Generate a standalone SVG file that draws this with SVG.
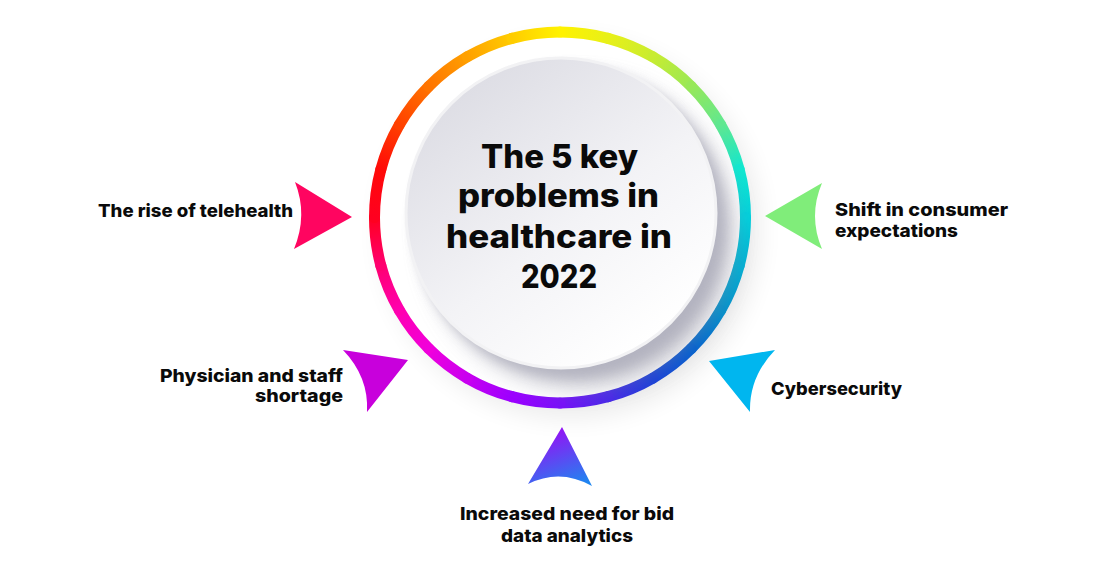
<svg xmlns="http://www.w3.org/2000/svg" width="1100" height="578" viewBox="0 0 1100 578">
<style>
.lbl{font-family:Inter,"Open Sans","Liberation Sans",sans-serif;font-weight:800;font-size:18px;fill:#0a0a0a}
.ttl{font-family:Inter,"Open Sans","Liberation Sans",sans-serif;font-weight:800;font-size:32px;fill:#0a0a0a}
.seg{fill:none;stroke-width:11;stroke-linecap:round}
</style>
<defs>
<filter id="blur12" x="-30%" y="-30%" width="160%" height="160%"><feGaussianBlur stdDeviation="12"/></filter>
<filter id="blur6" x="-30%" y="-30%" width="160%" height="160%"><feGaussianBlur stdDeviation="6"/></filter>
<linearGradient id="disc" x1="0.2" y1="0.1" x2="0.8" y2="0.9"><stop offset="0" stop-color="#dedee5"/><stop offset="0.55" stop-color="#f3f3f6"/><stop offset="1" stop-color="#ffffff"/></linearGradient>
<linearGradient id="blueArr" x1="0.4" y1="0" x2="0.8" y2="1"><stop offset="0" stop-color="#9a0cf5"/><stop offset="1" stop-color="#1e86f0"/></linearGradient>
<linearGradient id="g0" gradientUnits="userSpaceOnUse" x1="560" y1="32" x2="608.01" y2="38.32"><stop offset="0" stop-color="#fff200"/><stop offset="1" stop-color="#e8f018"/></linearGradient>
<linearGradient id="g1" gradientUnits="userSpaceOnUse" x1="608.01" y1="38.32" x2="652.75" y2="56.85"><stop offset="0" stop-color="#e8f018"/><stop offset="1" stop-color="#c8ec30"/></linearGradient>
<linearGradient id="g2" gradientUnits="userSpaceOnUse" x1="652.75" y1="56.85" x2="691.17" y2="86.33"><stop offset="0" stop-color="#c8ec30"/><stop offset="1" stop-color="#98e858"/></linearGradient>
<linearGradient id="g3" gradientUnits="userSpaceOnUse" x1="691.17" y1="86.33" x2="720.65" y2="124.75"><stop offset="0" stop-color="#98e858"/><stop offset="1" stop-color="#60e890"/></linearGradient>
<linearGradient id="g4" gradientUnits="userSpaceOnUse" x1="720.65" y1="124.75" x2="739.18" y2="169.49"><stop offset="0" stop-color="#60e890"/><stop offset="1" stop-color="#10e8d0"/></linearGradient>
<linearGradient id="g5" gradientUnits="userSpaceOnUse" x1="739.18" y1="169.49" x2="745.5" y2="217.5"><stop offset="0" stop-color="#10e8d0"/><stop offset="1" stop-color="#00d0dc"/></linearGradient>
<linearGradient id="g6" gradientUnits="userSpaceOnUse" x1="745.5" y1="217.5" x2="739.18" y2="265.51"><stop offset="0" stop-color="#00d0dc"/><stop offset="1" stop-color="#00b0d4"/></linearGradient>
<linearGradient id="g7" gradientUnits="userSpaceOnUse" x1="739.18" y1="265.51" x2="720.65" y2="310.25"><stop offset="0" stop-color="#00b0d4"/><stop offset="1" stop-color="#0090cc"/></linearGradient>
<linearGradient id="g8" gradientUnits="userSpaceOnUse" x1="720.65" y1="310.25" x2="691.17" y2="348.67"><stop offset="0" stop-color="#0090cc"/><stop offset="1" stop-color="#0060d0"/></linearGradient>
<linearGradient id="g9" gradientUnits="userSpaceOnUse" x1="691.17" y1="348.67" x2="652.75" y2="378.15"><stop offset="0" stop-color="#0060d0"/><stop offset="1" stop-color="#1840d8"/></linearGradient>
<linearGradient id="g10" gradientUnits="userSpaceOnUse" x1="652.75" y1="378.15" x2="608.01" y2="396.68"><stop offset="0" stop-color="#1840d8"/><stop offset="1" stop-color="#4828e8"/></linearGradient>
<linearGradient id="g11" gradientUnits="userSpaceOnUse" x1="608.01" y1="396.68" x2="560" y2="403"><stop offset="0" stop-color="#4828e8"/><stop offset="1" stop-color="#7810f8"/></linearGradient>
<linearGradient id="g12" gradientUnits="userSpaceOnUse" x1="560" y1="403" x2="511.99" y2="396.68"><stop offset="0" stop-color="#7810f8"/><stop offset="1" stop-color="#9c00ff"/></linearGradient>
<linearGradient id="g13" gradientUnits="userSpaceOnUse" x1="511.99" y1="396.68" x2="467.25" y2="378.15"><stop offset="0" stop-color="#9c00ff"/><stop offset="1" stop-color="#c800f0"/></linearGradient>
<linearGradient id="g14" gradientUnits="userSpaceOnUse" x1="467.25" y1="378.15" x2="428.83" y2="348.67"><stop offset="0" stop-color="#c800f0"/><stop offset="1" stop-color="#f000dc"/></linearGradient>
<linearGradient id="g15" gradientUnits="userSpaceOnUse" x1="428.83" y1="348.67" x2="399.35" y2="310.25"><stop offset="0" stop-color="#f000dc"/><stop offset="1" stop-color="#ff00b0"/></linearGradient>
<linearGradient id="g16" gradientUnits="userSpaceOnUse" x1="399.35" y1="310.25" x2="380.82" y2="265.51"><stop offset="0" stop-color="#ff00b0"/><stop offset="1" stop-color="#ff0070"/></linearGradient>
<linearGradient id="g17" gradientUnits="userSpaceOnUse" x1="380.82" y1="265.51" x2="374.5" y2="217.5"><stop offset="0" stop-color="#ff0070"/><stop offset="1" stop-color="#ff0020"/></linearGradient>
<linearGradient id="g18" gradientUnits="userSpaceOnUse" x1="374.5" y1="217.5" x2="380.82" y2="169.49"><stop offset="0" stop-color="#ff0020"/><stop offset="1" stop-color="#ff0a08"/></linearGradient>
<linearGradient id="g19" gradientUnits="userSpaceOnUse" x1="380.82" y1="169.49" x2="399.35" y2="124.75"><stop offset="0" stop-color="#ff0a08"/><stop offset="1" stop-color="#ff4000"/></linearGradient>
<linearGradient id="g20" gradientUnits="userSpaceOnUse" x1="399.35" y1="124.75" x2="428.83" y2="86.33"><stop offset="0" stop-color="#ff4000"/><stop offset="1" stop-color="#ff7400"/></linearGradient>
<linearGradient id="g21" gradientUnits="userSpaceOnUse" x1="428.83" y1="86.33" x2="467.25" y2="56.85"><stop offset="0" stop-color="#ff7400"/><stop offset="1" stop-color="#ffa000"/></linearGradient>
<linearGradient id="g22" gradientUnits="userSpaceOnUse" x1="467.25" y1="56.85" x2="511.99" y2="38.32"><stop offset="0" stop-color="#ffa000"/><stop offset="1" stop-color="#ffcc00"/></linearGradient>
<linearGradient id="g23" gradientUnits="userSpaceOnUse" x1="511.99" y1="38.32" x2="560" y2="32"><stop offset="0" stop-color="#ffcc00"/><stop offset="1" stop-color="#fff200"/></linearGradient>
</defs>
<rect width="1100" height="578" fill="#ffffff"/>

<g id="center">
  <circle cx="570" cy="229" r="190" fill="#000" opacity="0.07" filter="url(#blur12)"/>
  <circle cx="560" cy="217.5" r="186" fill="#ffffff"/>
  <g id="ring">
    <path class="seg" stroke="url(#g0)" d="M560,32 A185.5,185.5 0 0 1 608.01,38.32"/>
    <path class="seg" stroke="url(#g1)" d="M608.01,38.32 A185.5,185.5 0 0 1 652.75,56.85"/>
    <path class="seg" stroke="url(#g2)" d="M652.75,56.85 A185.5,185.5 0 0 1 691.17,86.33"/>
    <path class="seg" stroke="url(#g3)" d="M691.17,86.33 A185.5,185.5 0 0 1 720.65,124.75"/>
    <path class="seg" stroke="url(#g4)" d="M720.65,124.75 A185.5,185.5 0 0 1 739.18,169.49"/>
    <path class="seg" stroke="url(#g5)" d="M739.18,169.49 A185.5,185.5 0 0 1 745.5,217.5"/>
    <path class="seg" stroke="url(#g6)" d="M745.5,217.5 A185.5,185.5 0 0 1 739.18,265.51"/>
    <path class="seg" stroke="url(#g7)" d="M739.18,265.51 A185.5,185.5 0 0 1 720.65,310.25"/>
    <path class="seg" stroke="url(#g8)" d="M720.65,310.25 A185.5,185.5 0 0 1 691.17,348.67"/>
    <path class="seg" stroke="url(#g9)" d="M691.17,348.67 A185.5,185.5 0 0 1 652.75,378.15"/>
    <path class="seg" stroke="url(#g10)" d="M652.75,378.15 A185.5,185.5 0 0 1 608.01,396.68"/>
    <path class="seg" stroke="url(#g11)" d="M608.01,396.68 A185.5,185.5 0 0 1 560,403"/>
    <path class="seg" stroke="url(#g12)" d="M560,403 A185.5,185.5 0 0 1 511.99,396.68"/>
    <path class="seg" stroke="url(#g13)" d="M511.99,396.68 A185.5,185.5 0 0 1 467.25,378.15"/>
    <path class="seg" stroke="url(#g14)" d="M467.25,378.15 A185.5,185.5 0 0 1 428.83,348.67"/>
    <path class="seg" stroke="url(#g15)" d="M428.83,348.67 A185.5,185.5 0 0 1 399.35,310.25"/>
    <path class="seg" stroke="url(#g16)" d="M399.35,310.25 A185.5,185.5 0 0 1 380.82,265.51"/>
    <path class="seg" stroke="url(#g17)" d="M380.82,265.51 A185.5,185.5 0 0 1 374.5,217.5"/>
    <path class="seg" stroke="url(#g18)" d="M374.5,217.5 A185.5,185.5 0 0 1 380.82,169.49"/>
    <path class="seg" stroke="url(#g19)" d="M380.82,169.49 A185.5,185.5 0 0 1 399.35,124.75"/>
    <path class="seg" stroke="url(#g20)" d="M399.35,124.75 A185.5,185.5 0 0 1 428.83,86.33"/>
    <path class="seg" stroke="url(#g21)" d="M428.83,86.33 A185.5,185.5 0 0 1 467.25,56.85"/>
    <path class="seg" stroke="url(#g22)" d="M467.25,56.85 A185.5,185.5 0 0 1 511.99,38.32"/>
    <path class="seg" stroke="url(#g23)" d="M511.99,38.32 A185.5,185.5 0 0 1 560,32"/>
  </g>
  <circle cx="580" cy="233" r="152" fill="#8a8a9c" opacity="0.6" filter="url(#blur12)"/>
  <circle cx="569" cy="222" r="155" fill="#b0b0be" opacity="0.7" filter="url(#blur6)"/>
  <circle cx="561" cy="213" r="155" fill="url(#disc)" stroke="#f2f2f4" stroke-width="3"/>
  <text class="ttl" x="481" y="168" textLength="157" lengthAdjust="spacingAndGlyphs">The 5 key</text>
  <text class="ttl" x="458" y="207" textLength="201" lengthAdjust="spacingAndGlyphs">problems in</text>
  <text class="ttl" x="446" y="248" textLength="226" lengthAdjust="spacingAndGlyphs">healthcare in</text>
  <text class="ttl" x="521" y="288" textLength="76" lengthAdjust="spacingAndGlyphs">2022</text>
</g>

<g id="telehealth">
  <path d="M295,182 L352,217 L294,249 Q308,215 295,182 Z" fill="#ff0560"/>
  <text class="lbl" x="98" y="217" textLength="195" lengthAdjust="spacingAndGlyphs">The rise of telehealth</text>
</g>

<g id="consumer">
  <path d="M822,183 L765,216 L822,249 Q808,216 822,183 Z" fill="#80ed7a"/>
  <text class="lbl" x="835" y="216" textLength="173" lengthAdjust="spacingAndGlyphs">Shift in consumer</text>
  <text class="lbl" x="835" y="237" textLength="123" lengthAdjust="spacingAndGlyphs">expectations</text>
</g>

<g id="shortage">
  <path d="M343,350 L408,360 L367,412 Q369,377 343,350 Z" fill="#c800dc"/>
  <text class="lbl" x="160" y="382" textLength="183" lengthAdjust="spacingAndGlyphs">Physician and staff</text>
  <text class="lbl" x="255" y="402" textLength="88" lengthAdjust="spacingAndGlyphs">shortage</text>
</g>

<g id="cybersecurity">
  <path d="M775,350 L709,361 L750,412 Q749,377 775,350 Z" fill="#00b6ef"/>
  <text class="lbl" x="771" y="395" textLength="131" lengthAdjust="spacingAndGlyphs">Cybersecurity</text>
</g>

<g id="analytics">
  <path d="M562,427 L592,486 Q560,468 528,484 Z" fill="url(#blueArr)"/>
  <text class="lbl" x="460" y="520" textLength="214" lengthAdjust="spacingAndGlyphs">Increased need for bid</text>
  <text class="lbl" x="501" y="542" textLength="132" lengthAdjust="spacingAndGlyphs">data analytics</text>
</g>
</svg>
